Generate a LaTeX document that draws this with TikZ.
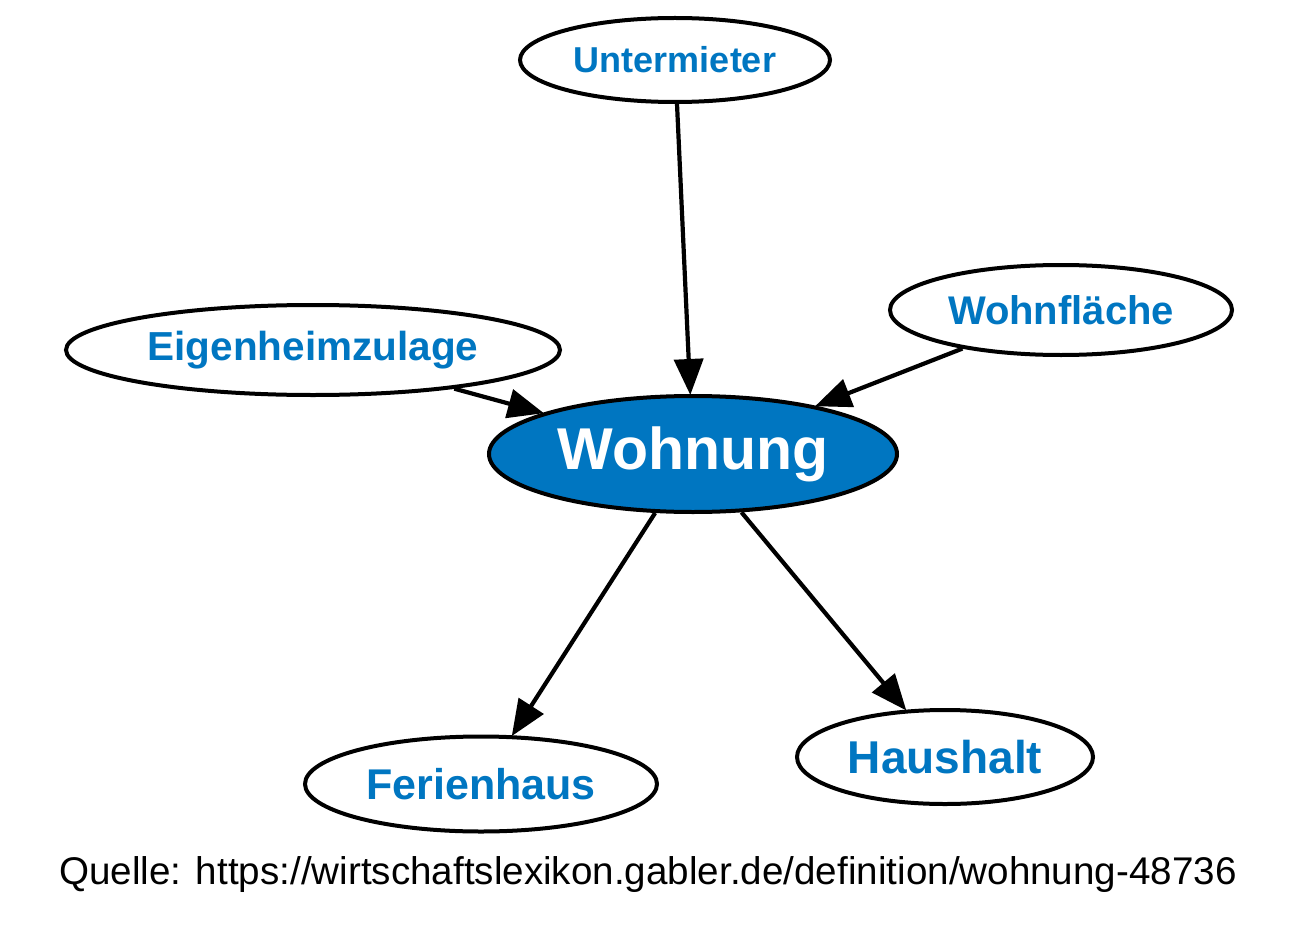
\documentclass[tikz,border=0pt]{standalone}
\usepackage{fontspec}
\setmainfont{Liberation Sans}
\usetikzlibrary{shapes.geometric,arrows.meta}
\definecolor{gblue}{RGB}{0,118,193}
\tikzset{
  ell/.style={ellipse, draw=black, line width=4pt, fill=white, inner sep=0pt, text=gblue, font=\bfseries},
  arr/.style={line width=4.2pt, -{Triangle[length=36pt,width=29pt]}, shorten >=-1pt},
}
\begin{document}
\begin{tikzpicture}[x=1pt,y=-1pt]
\useasboundingbox (0,0) rectangle (1300,936);
\node[ell, minimum width=310pt, minimum height=84pt, font=\bfseries\fontsize{36}{40}\selectfont] (u) at (675,60) {Untermieter};
\node[ell, minimum width=342pt, minimum height=90pt, font=\bfseries\fontsize{40}{44}\selectfont] (f) at (1061,310) {Wohnfläche};
\node[ell, minimum width=494pt, minimum height=90pt, font=\bfseries\fontsize{40.5}{44}\selectfont] (e) at (313,350) {Eigenheimzulage};
\node[ell, fill=gblue, text=white, minimum width=408pt, minimum height=116pt, font=\bfseries\fontsize{59}{62}\selectfont] (w) at (693,454) {Wohnung};
\node[ell, minimum width=352pt, minimum height=95pt, font=\bfseries\fontsize{43}{46}\selectfont] (fe) at (481,784) {Ferienhaus};
\node[ell, minimum width=296pt, minimum height=94pt, font=\bfseries\fontsize{46}{50}\selectfont] (h) at (945,757) {Haushalt};
\draw[arr] (u) -- (w);
\draw[arr] (f) -- (w);
\draw[arr] (e) -- (w);
\draw[arr] (w) -- (fe);
\draw[arr] (w) -- (h);
\node[font=\fontsize{38.6}{42}\selectfont, inner sep=0pt] (q) at (648,875) {Quelle: https://wirtschaftslexikon.gabler.de/definition/wohnung-48736};
\end{tikzpicture}
\end{document}
